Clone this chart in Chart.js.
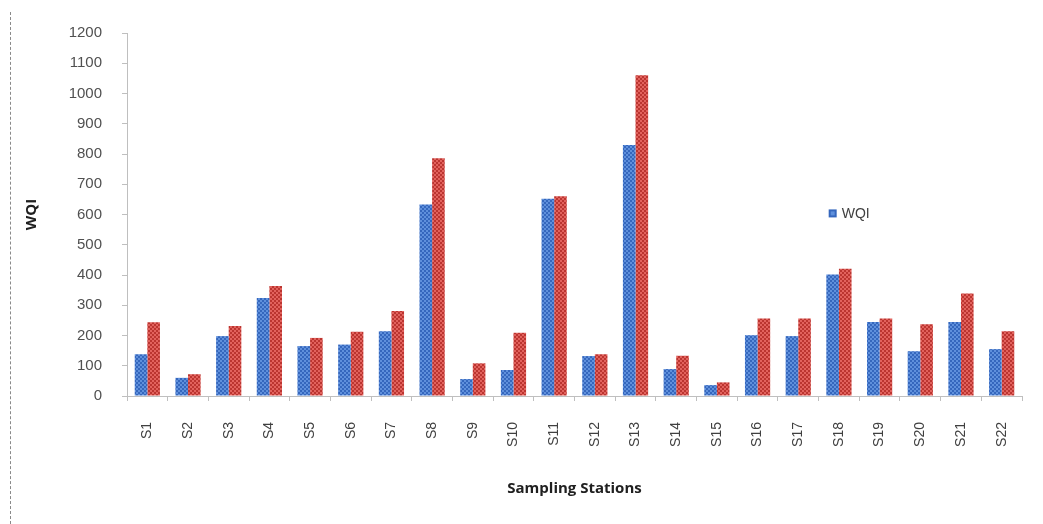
<!DOCTYPE html>
<html>
<head>
<meta charset="utf-8">
<script src="https://cdn.jsdelivr.net/npm/chart.js@4.4.1/dist/chart.umd.min.js"></script>
<style>
  html, body { margin: 0; padding: 0; background: #ffffff; }
  #wrap { position: relative; width: 1043px; height: 524px; }
  #edge { position: absolute; left: 10px; top: 12px; bottom: 0; border-left: 1px dashed #8a8a8a; }
  canvas { position: absolute; left: 0; top: 0; }
</style>
</head>
<body>
<div id="wrap">
  <div id="edge"></div>
  <canvas id="chart" width="1043" height="524"></canvas>
</div>
<script>
// Sampling stations along the x axis
const stations = ['S1','S2','S3','S4','S5','S6','S7','S8','S9','S10','S11',
                  'S12','S13','S14','S15','S16','S17','S18','S19','S20','S21','S22'];

// Water Quality Index per station, two sets
const wqiBlue = [138, 60, 198, 324, 165, 170, 214, 633, 56, 86, 652,
                 132, 830, 89, 36, 201, 198, 402, 245, 148, 245, 155];
const wqiRed  = [244, 72, 231, 364, 192, 212, 281, 786, 108, 209, 660,
                 138, 1060, 133, 45, 256, 256, 421, 256, 237, 339, 214];

// Y axis range and step
const yMin = 0, yMax = 1200, yStep = 100;

// Checkered fill, like a patterned spreadsheet bar
function checker(a, b) {
  const c = document.createElement('canvas');
  c.width = 4; c.height = 4;
  const g = c.getContext('2d');
  g.fillStyle = a; g.fillRect(0, 0, 4, 4);
  g.fillStyle = b; g.fillRect(0, 0, 2, 2); g.fillRect(2, 2, 2, 2);
  return g.createPattern(c, 'repeat');
}
const ctx = document.getElementById('chart').getContext('2d');
const bluePattern = checker('#3567bd', '#5f90dc');
const redPattern  = checker('#bb3530', '#e2625d');

// Legend box drawn inside the plot area, first series only
const innerLegend = {
  id: 'innerLegend',
  afterDraw(chart) {
    const a = chart.chartArea;
    const ds = chart.data.datasets[0];
    const x = a.left + (a.right - a.left) * 0.784;
    const y = a.top + (a.bottom - a.top) * 0.497;
    const c = chart.ctx;
    c.save();
    c.fillStyle = '#3567bd';
    c.fillRect(x, y - 4, 8, 8);
    c.fillStyle = '#5f90dc';
    c.fillRect(x + 2, y - 2, 4, 4);
    c.fillStyle = '#404040';
    c.font = '14px "Liberation Sans", Arial, sans-serif';
    c.textBaseline = 'middle';
    c.fillText(ds.label, x + 13, y + 1);
    c.restore();
  }
};

new Chart(ctx, {
  type: 'bar',
  data: {
    labels: stations,
    datasets: [
      { label: 'WQI', data: wqiBlue, backgroundColor: bluePattern, borderWidth: 0 },
      { label: 'WQI-2', data: wqiRed, backgroundColor: redPattern, borderWidth: 0 }
    ]
  },
  plugins: [innerLegend],
  options: {
    responsive: false,
    animation: false,
    events: [],
    layout: { padding: { left: 12, right: 21, top: 33, bottom: 0 } },
    datasets: { bar: { categoryPercentage: 0.62, barPercentage: 1.0 } },
    plugins: { legend: { display: false }, tooltip: { enabled: false } },
    scales: {
      x: {
        afterFit(s) { s.height = 128; },
        border: { color: '#bfbfbf', width: 1 },
        grid: { display: true, drawOnChartArea: false, offset: true, tickLength: 5, color: '#bfbfbf' },
        ticks: {
          minRotation: 90, maxRotation: 90, padding: 21, autoSkip: false,
          color: '#404040',
          font: { family: '"Liberation Sans", Arial, sans-serif', size: 14 }
        },
        title: {
          display: true, text: 'Sampling Stations', color: '#202020',
          font: { family: '"Open Sans", "Liberation Sans", sans-serif', size: 15, weight: 'bold' },
          padding: { top: 0, bottom: 26 }
        }
      },
      y: {
        min: yMin, max: yMax,
        afterFit(s) { s.width = 115; },
        border: { color: '#bfbfbf', width: 1 },
        grid: { display: true, drawOnChartArea: false, tickLength: 5, color: '#bfbfbf' },
        ticks: {
          stepSize: yStep, padding: 20,
          color: '#505050',
          callback: (v) => String(v),
          font: { family: '"Liberation Sans", Arial, sans-serif', size: 15 }
        },
        title: {
          display: true, text: 'WQI', color: '#202020',
          font: { family: '"Open Sans", "Liberation Sans", sans-serif', size: 15, weight: 'bold' },
          padding: { top: 11, bottom: 0 }
        }
      }
    }
  }
});
</script>
</body>
</html>
